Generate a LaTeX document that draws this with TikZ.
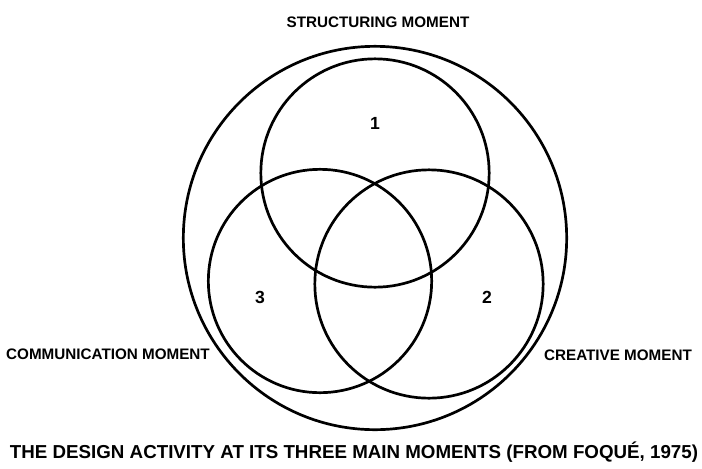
\documentclass[tikz,border=0pt]{standalone}
\usepackage{fontspec}
\setmainfont{Liberation Sans}
\usetikzlibrary{positioning}
\tikzset{
  ring/.style={circle, draw=black, line width=2.3pt, inner sep=0pt},
  moment/.style={font=\bfseries\fontsize{13}{13}\selectfont, inner sep=0pt},
  region/.style={font=\bfseries\fontsize{15}{15}\selectfont, inner sep=0pt},
  caption/.style={font=\bfseries\fontsize{16}{16}\selectfont, inner sep=0pt}
}

\begin{document}
\begin{tikzpicture}[x=0.03cm, y=-0.03cm]
  \useasboundingbox (0,0) rectangle (702,468);

  % outer circle and the three moments
  \node[ring, minimum size=11.5cm] (outer) at (375,238) {};
  \node[ring, minimum size=6.85cm] (structuring) at (375,173) {};
  \node[ring, minimum size=6.7cm] (communication) at (320,281) {};
  \node[ring, minimum size=6.85cm] (creative) at (429,284) {};

  \node[region] (one) at (375,123) {1};
  \node[region] (two) at (487,297) {2};
  \node[region] (three) at (260,297) {3};

  \node[moment] (structlabel) at (378,22) {STRUCTURING MOMENT};
  \node[moment] (commlabel) at (108,354) {COMMUNICATION MOMENT};
  \node[moment] (creativelabel) at (618,355) {CREATIVE MOMENT};

  \node[caption] (title) at (354,452) {THE DESIGN ACTIVITY AT ITS THREE MAIN MOMENTS (FROM FOQUÉ, 1975)};
\end{tikzpicture}
\end{document}
